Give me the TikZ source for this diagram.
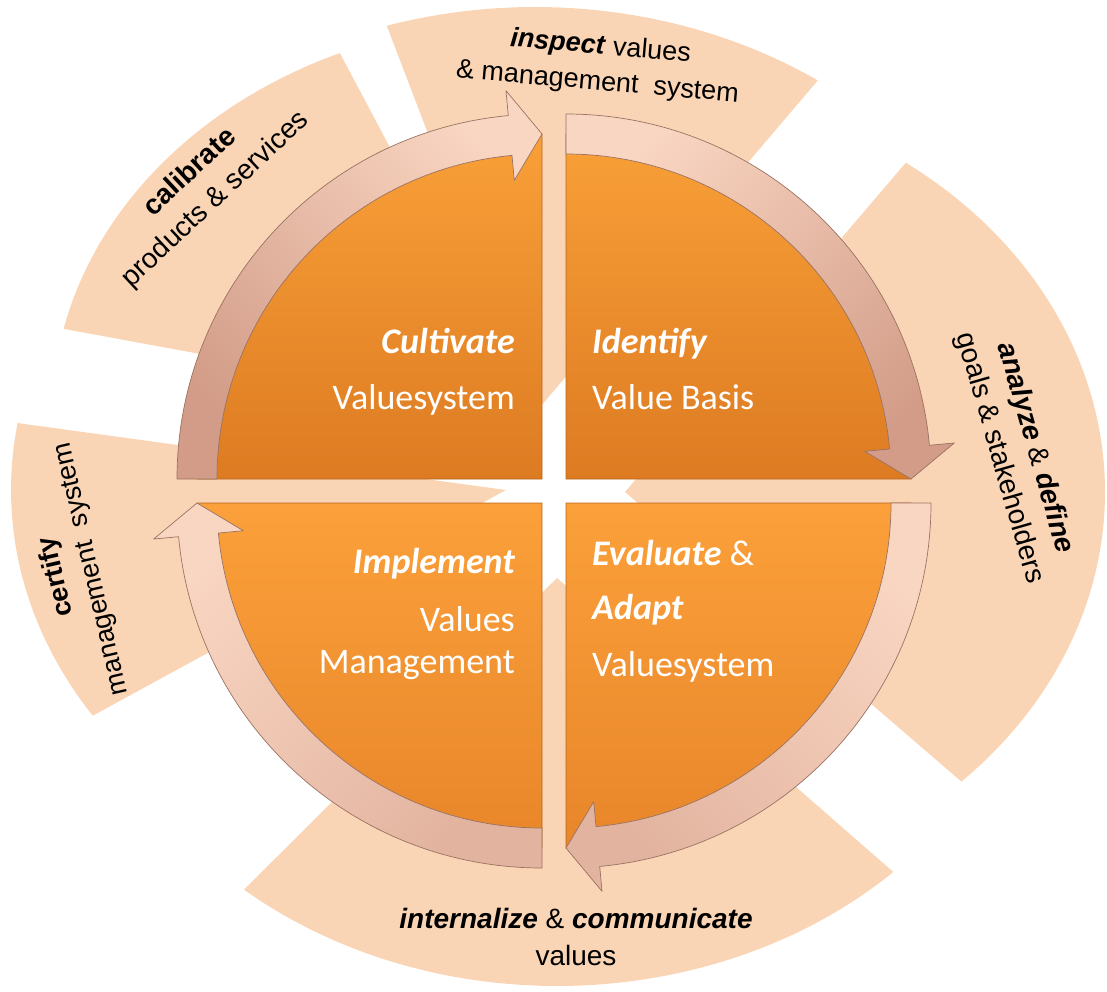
\documentclass[tikz,border=0pt]{standalone}
\usepackage{fontspec}
\setmainfont{Liberation Sans}
\newfontfamily\calfont{Carlito}
\definecolor{peach}{HTML}{FAD5B5}
\definecolor{ringlight}{HTML}{F9D6C2}
\definecolor{ringdark}{HTML}{D29C88}
\definecolor{ringedge}{HTML}{9A7262}
\definecolor{qlight}{HTML}{F9A038}
\definecolor{qdark}{HTML}{DD7B22}
\definecolor{qlightb}{HTML}{FBA03A}
\definecolor{qdarkb}{HTML}{E8862A}
\definecolor{quadedge}{HTML}{B8661E}
\newcommand\myring[4]{%
  \path[ring,#4,shift={(#1,#2)}] (#3:365)
    arc[start angle=#3, end angle=#3-84.7, radius=365]
    -- ({#3-84.7}:390) -- ({#3-90}:345) -- ({#3-84.7}:300) -- ({#3-84.7}:325)
    arc[start angle=#3-84.7, end angle=#3, radius=325] -- cycle;}
\begin{document}
\begin{tikzpicture}[x=1pt,y=1pt,
  sector/.style={fill=peach},
  ring/.style={draw=ringedge, line width=0.7pt, line join=round},
  quad/.style={draw=quadedge, line width=0.6pt},
  qtitle/.style={font=\calfont\bfseries\itshape\fontsize{36}{43}\selectfont, text=white, inner sep=0pt},
  qtext/.style={font=\calfont\fontsize{36}{43}\selectfont, text=white, inner sep=0pt},
  lab/.style={font=\fontsize{28}{37}\selectfont, align=center, inner sep=0pt, text=black},
  labs/.style={font=\fontsize{27}{36}\selectfont, align=center, inner sep=0pt, text=black}
]
\useasboundingbox (0,0) rectangle (1107,-991);
% outer sectors
\fill[sector] (535,-413) -- +(55:493 and 406) arc[start angle=55, end angle=107.5, x radius=493, y radius=406] -- cycle;
\fill[sector] (532,-415) -- +(113.6:480 and 395) arc[start angle=113.6, end angle=167.4, x radius=480, y radius=395] -- cycle;
\fill[sector] (625,-492) -- +(54.2:480 and 406) arc[start angle=54.2, end angle=-45.5, x radius=480, y radius=406] -- cycle;
\fill[sector] (557,-578) -- +(-46.1:485 and 408) arc[start angle=-46.1, end angle=-130.2, x radius=485, y radius=408] -- cycle;
\fill[sector] (506,-490) -- +(170.6:495 and 410) arc[start angle=170.6, end angle=213.4, x radius=495, y radius=410] -- cycle;
% quadrants
\path[quad, top color=qlight, bottom color=qdark] (542,-479) -- +(180:345) arc[start angle=180, end angle=90, radius=345] -- cycle;
\path[quad, top color=qlight, bottom color=qdark] (566,-479) -- +(90:345) arc[start angle=90, end angle=0, radius=345] -- cycle;
\path[quad, top color=qlightb, bottom color=qdarkb] (566,-503) -- +(0:345) arc[start angle=0, end angle=-90, radius=345] -- cycle;
\path[quad, top color=qlightb, bottom color=qdarkb] (542,-503) -- +(-90:345) arc[start angle=-90, end angle=-180, radius=345] -- cycle;
% ring arrows
\myring{542}{-479}{180}{top color=ringlight, bottom color=ringdark, shading angle=-45}
\myring{566}{-479}{90}{top color=ringlight, bottom color=ringdark, shading angle=45}
\myring{566}{-503}{0}{top color=ringlight, bottom color=ringdark!60!ringlight, shading angle=-45}
\myring{542}{-503}{-90}{top color=ringlight, bottom color=ringdark!60!ringlight, shading angle=45}
% quadrant texts
\node[qtitle, anchor=base east] (cultivate) at (515,-353) {Cultivate};
\node[qtext, anchor=base east] (cultivateb) at (515,-409) {Valuesystem};
\node[qtitle, anchor=base west] (identify) at (592,-353) {Identify};
\node[qtext, anchor=base west] (identifyb) at (592,-409) {Value Basis};
\node[qtitle, anchor=base east] (implement) at (515,-573) {Implement};
\node[qtext, anchor=base east] (implementb) at (515,-631) {Values};
\node[qtext, anchor=base east] (implementc) at (515,-673) {Management};
\node[qtitle, anchor=base west] (evaluate) at (592,-565) {Evaluate {\mdseries\upshape\&}};
\node[qtitle, anchor=base west] (adapt) at (592,-619) {Adapt};
\node[qtext, anchor=base west] (evaluateb) at (592,-676) {Valuesystem};
% sector labels
\node[labs, rotate=-5] (inspect) at (599,-65) {\textbf{\textit{inspect}} values\\\& management\ \ system};
\node[lab, rotate=43] (calibrate) at (203,-186) {\textbf{calibrate}\\products \& services};
\node[lab, rotate=-74] (analyze) at (1017,-453) {\textbf{\textit{analyze}} \& \textbf{\textit{define}}\\goals \& stakeholders};
\node[labs, rotate=103] (certify) at (74,-573) {\textbf{certify}\\management\ \ system};
\node[lab] (internalize) at (576,-937) {\textbf{\textit{internalize}} \& \textbf{\textit{communicate}}\\values};
\end{tikzpicture}
\end{document}
